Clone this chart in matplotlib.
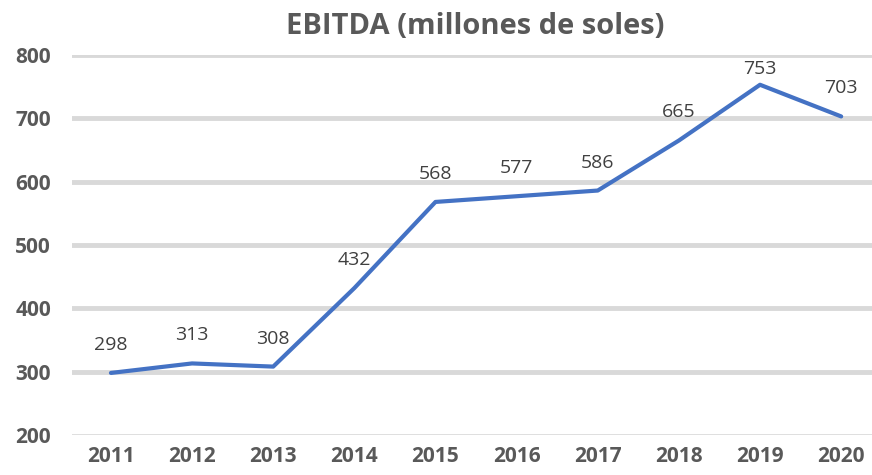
import matplotlib.pyplot as plt

years = ['2011', '2012', '2013', '2014', '2015', '2016', '2017', '2018', '2019', '2020']
ebitda = [298, 313, 308, 432, 568, 577, 586, 665, 753, 703]
y_ticks = [200, 300, 400, 500, 600, 700, 800]

plt.rcParams['font.family'] = ['Open Sans', 'DejaVu Sans']

fig = plt.figure(figsize=(8.72, 4.75), dpi=100)
ax = fig.add_axes([72 / 872, 40 / 475, 1 - 72 / 872, 380 / 475])

x = list(range(len(years)))
ax.plot(x, ebitda, color='#4472C4', linewidth=3, solid_capstyle='round', zorder=3)

for i, v in enumerate(ebitda):
    # top label sits lower so it stays inside the plot area
    off = 16 if v == max(ebitda) else 28
    ax.annotate(str(v), (i, v), xytext=(0, off), textcoords='offset pixels',
                ha='center', va='center', fontsize=14, color='#404040')

ax.set_ylim(200, 800)
ax.set_xlim(-0.48, 9.38)
ax.set_yticks(y_ticks)
ax.set_xticks(x)
ax.set_xticklabels(years)
for t in y_ticks:
    lw = 1.2 if t == 200 else 3.5
    ax.axhline(t, color='#D9D9D9', linewidth=lw, zorder=1)

ax.tick_params(length=0, labelsize=15, labelcolor='#595959')
ax.tick_params(axis='x', pad=8)
ax.tick_params(axis='y', pad=15)
for lab in ax.get_xticklabels() + ax.get_yticklabels():
    lab.set_fontweight('bold')
for s in ax.spines.values():
    s.set_visible(False)

fig.text(475 / 872, 1 - 27 / 475, 'EBITDA (millones de soles)', ha='center', va='center',
         fontsize=21, fontweight='bold', color='#595959')

plt.savefig('out.png', dpi=100)
